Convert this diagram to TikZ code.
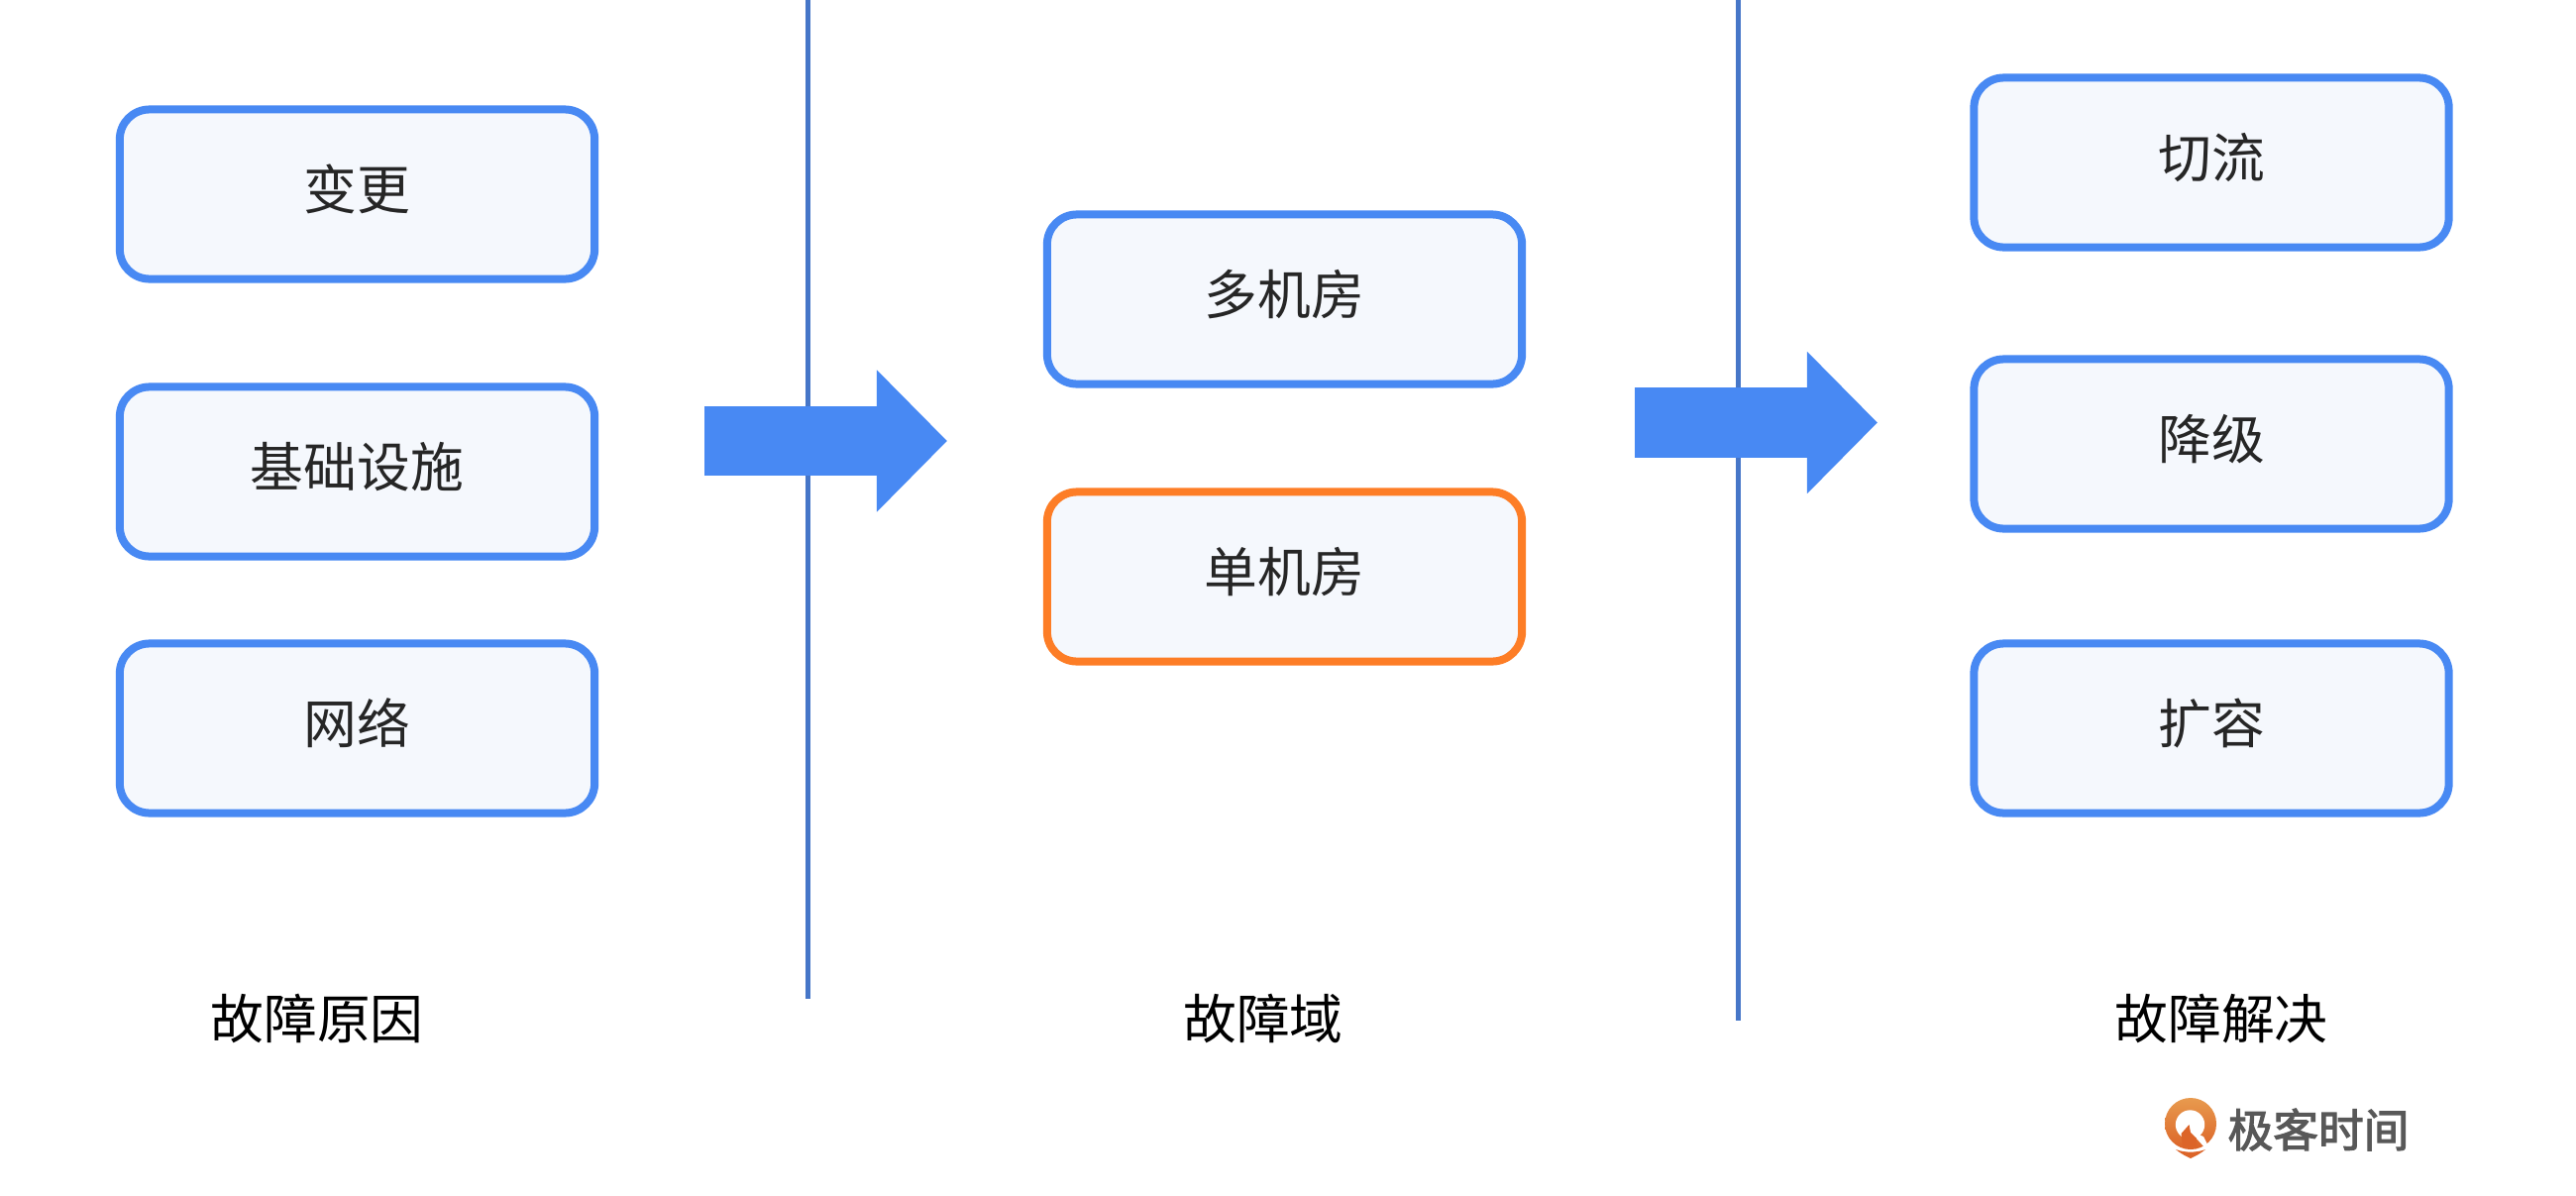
\documentclass[tikz,border=0pt]{standalone}
\usepackage{fontspec}
\usepackage{xcolor}
\setmainfont{Noto Sans CJK SC}
\newfontfamily\brandfont[FakeBold=2.4]{Noto Sans CJK SC}
\usetikzlibrary{
  arrows.meta,
  positioning
}
\definecolor{boxline}{RGB}{72,137,243}
\definecolor{boxfill}{RGB}{245,248,253}
\definecolor{hotline}{RGB}{253,125,38}
\definecolor{divider}{RGB}{70,118,200}
\definecolor{bodytext}{RGB}{38,38,38}
\definecolor{logotop}{RGB}{232,154,78}
\definecolor{logolow}{RGB}{220,100,40}
\definecolor{logotext}{RGB}{88,88,88}

\begin{document}
\begin{tikzpicture}[
  x=0.01cm, y=-0.01cm,
  every node/.style={font=\fontsize{15.3pt}{18pt}\selectfont},
  cell/.style={draw=boxline, fill=boxfill, line width=0.08cm, rounded corners=0.3cm,
    minimum width=4.79cm, minimum height=1.71cm, text=bodytext, inner sep=0pt,
    text height=0.45cm, text depth=0.14cm},
  hotcell/.style={cell, draw=hotline},
  column/.style={text=black, inner sep=0pt},
  divide/.style={draw=divider, line width=0.05cm},
  flow/.style={draw=boxline, line width=0.7cm, -{Triangle[length=0.71cm, width=1.39cm]}}
]
\useasboundingbox (0,0) rectangle (2600,1206);

% left column
\node[cell] (change) at (360.5,196) {变更};
\node[cell] (infra) at (360.5,476) {基础设施};
\node[cell] (network) at (360.5,735) {网络};
\node[column] (cause) at (320,1028) {故障原因};

% middle column
\node[cell] (multi) at (1296.5,302) {多机房};
\node[hotcell] (single) at (1296.5,582) {单机房};
\node[column] (domain) at (1275,1028) {故障域};

% right column
\node[cell] (switch) at (2232,164) {切流};
\node[cell] (degrade) at (2232,448) {降级};
\node[cell] (expand) at (2232,735) {扩容};
\node[column] (solve) at (2242,1028) {故障解决};

% dividers
\coordinate (div1top) at (815,0);
\coordinate (div1low) at (815,1008);
\coordinate (div2top) at (1754,0);
\coordinate (div2low) at (1754,1030);
\draw[divide] (div1top) -- (div1low);
\draw[divide] (div2top) -- (div2low);

% block arrows on top of the dividers
\coordinate (flow1a) at (711,445);
\coordinate (flow1b) at (956,445);
\coordinate (flow2a) at (1650,426.5);
\coordinate (flow2b) at (1895,426.5);
\draw[flow] (flow1a) -- (flow1b);
\draw[flow] (flow2a) -- (flow2b);

% logo
\shade[top color=logotop, bottom color=logolow] (2211,1134) circle (0.26cm);
\fill[white] (2210.5,1135) circle (0.147cm);
\fill[logolow] (2209.5,1135) -- (2201.5,1144) -- (2203,1158) -- (2217,1158) -- (2217,1149) -- (2211,1143) -- cycle;
\fill[white] (2217,1144) -- (2224,1147) -- (2229,1157) -- (2226,1159) -- (2217,1149) -- cycle;
\fill[white] (2190,1156) .. controls (2203,1163) and (2219,1163) .. (2232,1156) -- (2232,1162) -- (2190,1162) -- cycle;
\fill[logolow] (2196,1160) .. controls (2205,1163.5) and (2217,1163.5) .. (2226,1160) .. controls (2220,1165) and (2215,1167) .. (2211,1169) .. controls (2207,1167) and (2202,1165) .. (2196,1160) -- cycle;
\node[text=logotext, inner sep=0pt, font=\fontsize{13pt}{16pt}\brandfont] (brand) at (2340,1140) {极客时间};

\end{tikzpicture}
\end{document}
